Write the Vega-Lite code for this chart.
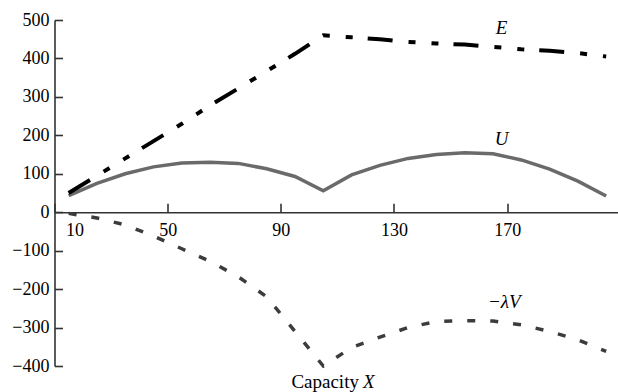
{
  "$schema": "https://vega.github.io/schema/vega-lite/v6.json",
  "width": 563,
  "height": 346,
  "autosize": {"type": "none"},
  "padding": {"left": 54.5, "top": 20, "right": 0, "bottom": 26},
  "background": "white",
  "config": {
    "view": {"stroke": null},
    "font": "Liberation Serif",
    "text": {"font": "Liberation Serif"},
    "axis": {
      "grid": false,
      "domainColor": "#333333",
      "domainWidth": 1.6,
      "tickColor": "#333333",
      "tickWidth": 1.6,
      "labelFont": "Liberation Serif",
      "labelFontSize": 18,
      "labelColor": "#000000",
      "title": null
    }
  },
  "datasets": {
    "curves": [
      {"x": 15, "value": 50, "series": "E"},
      {"x": 25, "value": 95, "series": "E"},
      {"x": 35, "value": 140, "series": "E"},
      {"x": 45, "value": 185, "series": "E"},
      {"x": 55, "value": 230, "series": "E"},
      {"x": 65, "value": 278, "series": "E"},
      {"x": 75, "value": 322, "series": "E"},
      {"x": 85, "value": 367, "series": "E"},
      {"x": 95, "value": 412, "series": "E"},
      {"x": 105, "value": 460, "series": "E"},
      {"x": 115, "value": 455, "series": "E"},
      {"x": 125, "value": 450, "series": "E"},
      {"x": 135, "value": 443, "series": "E"},
      {"x": 145, "value": 439, "series": "E"},
      {"x": 155, "value": 436, "series": "E"},
      {"x": 165, "value": 430, "series": "E"},
      {"x": 175, "value": 424, "series": "E"},
      {"x": 185, "value": 420, "series": "E"},
      {"x": 195, "value": 414, "series": "E"},
      {"x": 205, "value": 405, "series": "E"},
      {"x": 15, "value": 43, "series": "U"},
      {"x": 25, "value": 75, "series": "U"},
      {"x": 35, "value": 100, "series": "U"},
      {"x": 45, "value": 118, "series": "U"},
      {"x": 55, "value": 128, "series": "U"},
      {"x": 65, "value": 130, "series": "U"},
      {"x": 75, "value": 127, "series": "U"},
      {"x": 85, "value": 113, "series": "U"},
      {"x": 95, "value": 93, "series": "U"},
      {"x": 105, "value": 56, "series": "U"},
      {"x": 115, "value": 97, "series": "U"},
      {"x": 125, "value": 122, "series": "U"},
      {"x": 135, "value": 140, "series": "U"},
      {"x": 145, "value": 150, "series": "U"},
      {"x": 155, "value": 155, "series": "U"},
      {"x": 165, "value": 152, "series": "U"},
      {"x": 175, "value": 136, "series": "U"},
      {"x": 185, "value": 112, "series": "U"},
      {"x": 195, "value": 81, "series": "U"},
      {"x": 205, "value": 42, "series": "U"},
      {"x": 15, "value": -3, "series": "V"},
      {"x": 25, "value": -15, "series": "V"},
      {"x": 35, "value": -33, "series": "V"},
      {"x": 45, "value": -62, "series": "V"},
      {"x": 55, "value": -95, "series": "V"},
      {"x": 65, "value": -128, "series": "V"},
      {"x": 75, "value": -168, "series": "V"},
      {"x": 85, "value": -220, "series": "V"},
      {"x": 95, "value": -310, "series": "V"},
      {"x": 105, "value": -400, "series": "V"},
      {"x": 115, "value": -352, "series": "V"},
      {"x": 125, "value": -325, "series": "V"},
      {"x": 135, "value": -300, "series": "V"},
      {"x": 145, "value": -284, "series": "V"},
      {"x": 155, "value": -282, "series": "V"},
      {"x": 165, "value": -283, "series": "V"},
      {"x": 175, "value": -293, "series": "V"},
      {"x": 185, "value": -310, "series": "V"},
      {"x": 195, "value": -332, "series": "V"},
      {"x": 205, "value": -362, "series": "V"}
    ],
    "labels": [
      {"label": "E", "x": 168, "value": 479},
      {"label": "U", "x": 168, "value": 190},
      {"label": "−λV", "x": 169, "value": -233}
    ],
    "title": [
      {"word": "Capacity", "x": 117.6, "value": -400}
    ],
    "titlevar": [
      {"word": "X", "x": 117.6, "value": -400}
    ]
  },
  "encoding": {
    "x": {
      "field": "x",
      "type": "quantitative",
      "scale": {"domain": [10, 209], "nice": false, "zero": false},
      "axis": {
        "values": [10, 50, 90, 130, 170],
        "offset": -153.8,
        "tickSize": -9,
        "labelPadding": 18,
        "labelBaseline": "top",
        "labelFont": "Times New Roman",
        "labelFontSize": 18,
        "labelFlush": false,
        "labelOverlap": false,
        "labelOffset": {"condition": {"test": "datum.value == 10", "value": 20}, "value": 0}
      }
    },
    "y": {
      "field": "value",
      "type": "quantitative",
      "scale": {"domain": [-400, 500], "nice": false, "zero": false},
      "axis": {
        "values": [-400, -300, -200, -100, 0, 100, 200, 300, 400, 500],
        "tickSize": -8,
        "labelPadding": 13.5,
        "labelFont": "Times New Roman",
        "labelFontSize": 18,
        "labelFlush": false,
        "labelOverlap": false
      }
    }
  },
  "layer": [
    {
      "data": {"name": "curves"},
      "transform": [{"filter": "datum.series == 'U'"}],
      "mark": {"type": "line", "color": "#6a6a6a", "strokeWidth": 3.5, "clip": false}
    },
    {
      "data": {"name": "curves"},
      "transform": [{"filter": "datum.series == 'E'"}],
      "mark": {"type": "line", "color": "#000000", "strokeWidth": 4, "strokeDash": [25, 16, 7, 16, 7, 15], "clip": false}
    },
    {
      "data": {"name": "curves"},
      "transform": [{"filter": "datum.series == 'V'"}],
      "mark": {"type": "line", "color": "#3c3c3c", "strokeWidth": 3.5, "strokeDash": [8, 15], "clip": false}
    },
    {
      "data": {"name": "labels"},
      "mark": {"type": "text", "font": "Liberation Serif", "fontSize": 19, "fontStyle": "italic", "align": "center", "baseline": "middle", "color": "#000000"},
      "encoding": {"text": {"field": "label"}}
    },
    {
      "data": {"name": "title"},
      "mark": {"type": "text", "font": "Liberation Serif", "fontSize": 19, "align": "right", "baseline": "alphabetic", "dy": 22, "color": "#000000"},
      "encoding": {"text": {"field": "word"}}
    },
    {
      "data": {"name": "titlevar"},
      "mark": {"type": "text", "font": "Liberation Serif", "fontSize": 19, "fontStyle": "italic", "align": "left", "baseline": "alphabetic", "dx": 4, "dy": 22, "color": "#000000"},
      "encoding": {"text": {"field": "word"}}
    }
  ]
}
